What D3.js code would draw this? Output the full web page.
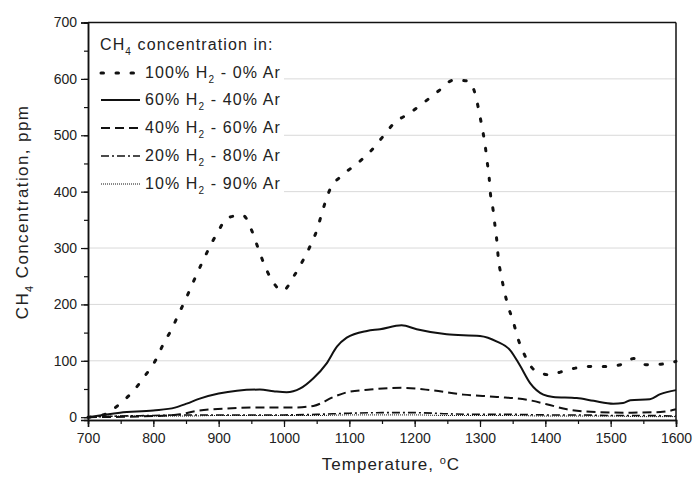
<!DOCTYPE html>
<html>
<head>
<meta charset="utf-8">
<script src="https://cdn.jsdelivr.net/npm/d3@7"></script>
<style>
  body { margin: 0; background: #fff; }
  text { font-family: "Liberation Sans", Arial, sans-serif; fill: #222; }
</style>
</head>
<body>
<div id="chart"></div>
<script>
// data (temperature in °C, CH4 in ppm)
const xTicks = [700, 800, 900, 1000, 1100, 1200, 1300, 1400, 1500, 1600];
const yTicks = [0, 100, 200, 300, 400, 500, 600, 700];

const t100 = [700, 726, 750, 769, 787, 803, 815, 828, 840, 851, 862, 873, 885, 898, 914, 937, 951, 960, 969, 981, 998, 1015, 1029, 1041, 1051, 1058, 1070, 1088, 1110, 1132, 1151, 1169, 1192, 1214, 1237, 1260, 1282, 1294, 1299, 1304, 1308, 1311, 1314, 1316, 1320, 1323, 1326, 1328, 1332, 1337, 1343, 1351, 1358, 1368, 1384, 1408, 1423, 1446, 1470, 1494, 1518, 1535, 1554, 1577, 1600];
const c100 = [0, 5, 25, 46, 73, 100, 129, 156, 186, 213, 242, 270, 299, 327, 354, 358, 330, 301, 273, 244, 224, 250, 278, 306, 334, 362, 403, 428, 448, 471, 497, 522, 539, 558, 579, 598, 596, 567, 539, 509, 481, 453, 425, 396, 368, 339, 310, 282, 254, 225, 197, 169, 140, 111, 83, 75, 80, 87, 90, 90, 94, 104, 93, 94, 99];

const t60 = [700, 749, 800, 833, 851, 871, 900, 928, 963, 984, 1004, 1025, 1045, 1065, 1081, 1096, 1127, 1147, 1180, 1203, 1249, 1300, 1326, 1346, 1361, 1377, 1397, 1412, 1448, 1474, 1504, 1519, 1530, 1560, 1576, 1600];
const c60 = [0, 8, 12, 17, 24, 33, 42, 47, 49, 46, 44, 51, 69, 95, 125, 141, 153, 156, 163, 156, 147, 144, 134, 119, 92, 60, 40, 36, 34, 29, 24, 25, 30, 32, 41, 48];

const t40 = [700, 800, 841, 866, 907, 953, 1014, 1045, 1076, 1096, 1132, 1180, 1224, 1275, 1326, 1372, 1402, 1433, 1479, 1525, 1576, 1600];
const c40 = [0, 2, 5, 11, 15, 17, 17, 20, 36, 44, 49, 52, 48, 40, 36, 31, 23, 14, 9, 8, 9, 14];

const t20 = [700, 750, 800, 850, 900, 950, 1000, 1050, 1100, 1150, 1200, 1250, 1300, 1350, 1400, 1450, 1500, 1550, 1600];
const c20 = [0, 2, 3, 4, 4, 4, 4, 5, 7, 8, 8, 6, 5, 5, 4, 4, 3, 3, 2];

const t10 = [700, 750, 800, 850, 900, 950, 1000, 1050, 1100, 1150, 1200, 1250, 1300, 1350, 1400, 1450, 1500, 1550, 1600];
const c10 = [0, 2, 2, 2, 3, 3, 3, 3, 4, 4, 4, 3, 3, 3, 2, 2, 2, 1, 1];

const seriesNames = ["100%", "60%", "40%", "20%", "10%"];
const argonNames = ["0%", "40%", "60%", "80%", "90%"];

// line styles per series
const styles = [
  {width: 3, dash: "2.5,12.5"},
  {width: 2, dash: null},
  {width: 2, dash: "9,5"},
  {width: 1.6, dash: "8,3,2,3"},
  {width: 1, dash: "1,1"}
];

const W = 694, H = 477;
const svg = d3.select("#chart").append("svg")
  .attr("width", W).attr("height", H);

const x = d3.scaleLinear().domain([700, 1600]).range([88, 676]);
const y = d3.scaleLinear().domain([-5, 700]).range([420, 22.5]);

// gridlines
svg.append("g")
  .selectAll("line")
  .data(yTicks.filter(d => d > 0 && d < 700))
  .join("line")
    .attr("x1", 88).attr("x2", 676)
    .attr("y1", d => y(d)).attr("y2", d => y(d))
    .attr("stroke", "#d9d9d9").attr("stroke-width", 1);

// curves
const allT = [t100, t60, t40, t20, t10];
const allC = [c100, c60, c40, c20, c10];
const line = d3.line()
  .x(d => x(d[0])).y(d => y(d[1]))
  .curve(d3.curveMonotoneX);

const plot = svg.append("g");
allT.forEach((ts, i) => {
  const pts = ts.map((t, j) => [t, allC[i][j]]);
  plot.append("path")
    .datum(pts)
    .attr("d", line)
    .attr("fill", "none")
    .attr("stroke", "#111")
    .attr("stroke-width", styles[i].width)
    .attr("stroke-dasharray", styles[i].dash)
    .attr("stroke-linecap", i === 0 ? "round" : "butt");
});

// legend box (covers gridlines)
svg.append("rect")
  .attr("x", 89).attr("y", 23.5).attr("width", 195).attr("height", 172)
  .attr("fill", "#fff");

const legend = svg.append("g");
const title = legend.append("text").attr("x", 100).attr("y", 50)
  .style("font-size", "16px").style("letter-spacing", "1.1px");
title.append("tspan").text("CH");
title.append("tspan").text("4").attr("dy", 5).style("font-size", "10px");
title.append("tspan").text(" concentration in:").attr("dy", -5);

const rowY = [73, 100, 128, 156, 184];
seriesNames.forEach((name, i) => {
  legend.append("line")
    .attr("x1", 101).attr("x2", 140)
    .attr("y1", rowY[i]).attr("y2", rowY[i])
    .attr("stroke", "#111")
    .attr("stroke-width", styles[i].width)
    .attr("stroke-dasharray", styles[i].dash)
    .attr("stroke-linecap", i === 0 ? "round" : "butt");
  const t = legend.append("text")
    .attr("x", 145).attr("y", rowY[i] + 5)
    .style("font-size", "16px").style("letter-spacing", "1.1px");
  t.append("tspan").text(name + " H");
  t.append("tspan").text("2").attr("dy", 5).style("font-size", "10px");
  t.append("tspan").text(" - " + argonNames[i] + " Ar").attr("dy", -5);
});

// axes
const xAxis = svg.append("g").attr("transform", "translate(0,420)");
xAxis.call(d3.axisBottom(x).tickValues(d3.range(700, 1601, 50)).tickSize(4).tickFormat(""));
xAxis.call(g => g.append("g").call(d3.axisBottom(x).tickValues(xTicks).tickSize(7).tickPadding(6).tickFormat(d3.format("d"))));
xAxis.selectAll("text").style("font-size", "14px").attr("fill", "#222");

const yAxis = svg.append("g").attr("transform", "translate(88,0)");
yAxis.call(d3.axisLeft(y).tickValues(d3.range(0, 701, 50)).tickSize(4).tickFormat(""));
yAxis.call(g => g.append("g").call(d3.axisLeft(y).tickValues(yTicks).tickSize(7).tickPadding(4).tickFormat(d3.format("d"))));
yAxis.selectAll("text").style("font-size", "14px").attr("fill", "#222");

svg.selectAll(".domain").attr("stroke", "#111").attr("stroke-width", 1.5);
svg.selectAll(".tick line").attr("stroke", "#111").attr("stroke-width", 1.2);

// frame top and right
svg.append("line").attr("x1", 88).attr("x2", 676).attr("y1", 22.5).attr("y2", 22.5)
  .attr("stroke", "#111").attr("stroke-width", 1.5);
svg.append("line").attr("x1", 676).attr("x2", 676).attr("y1", 22.5).attr("y2", 420)
  .attr("stroke", "#111").attr("stroke-width", 1.5);

// axis titles
const xt = svg.append("text")
  .attr("x", 391).attr("y", 470)
  .attr("text-anchor", "middle")
  .style("font-size", "17px").style("letter-spacing", "1px");
xt.append("tspan").text("Temperature, ");
xt.append("tspan").text("o").attr("dy", -6).style("font-size", "11px");
xt.append("tspan").text("C").attr("dy", 6);

const yt = svg.append("text")
  .attr("transform", "translate(28,212) rotate(-90)")
  .attr("text-anchor", "middle")
  .style("font-size", "17px").style("letter-spacing", "1.4px");
yt.append("tspan").text("CH");
yt.append("tspan").text("4").attr("dy", 5).style("font-size", "11px");
yt.append("tspan").text(" Concentration, ppm").attr("dy", -5);
</script>
</body>
</html>
